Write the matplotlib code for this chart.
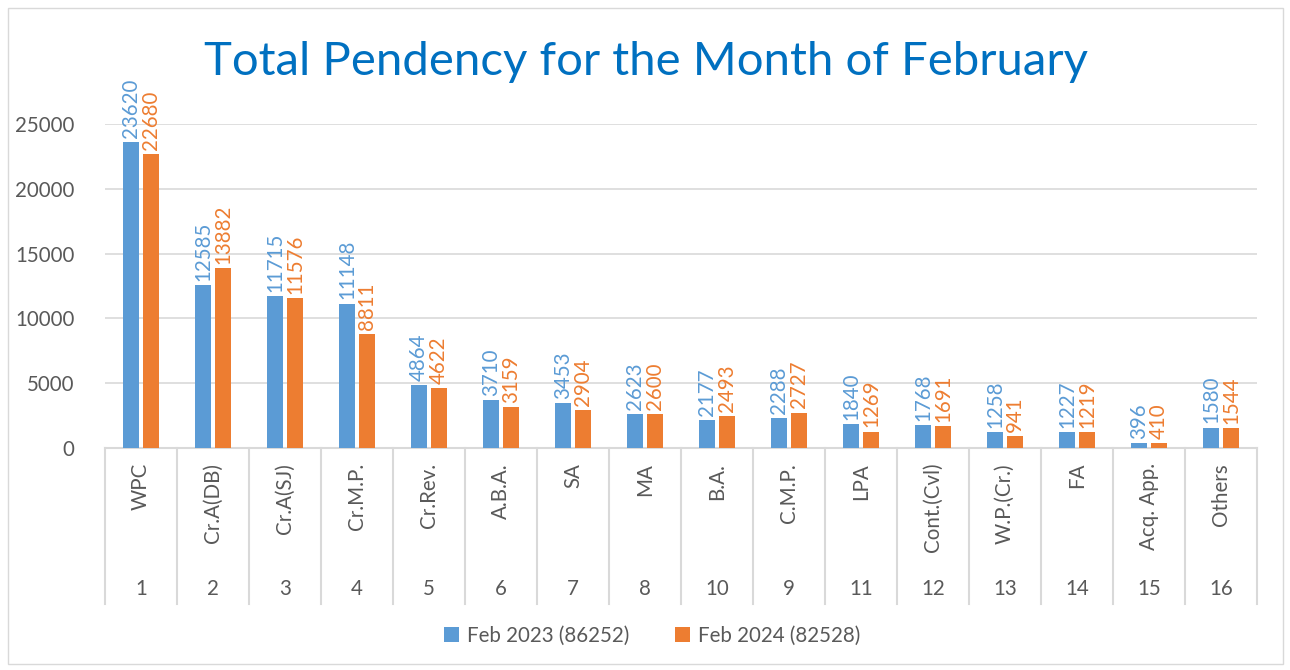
import matplotlib
matplotlib.use("Agg")
import matplotlib.pyplot as plt
import matplotlib.transforms as mtransforms
from matplotlib.lines import Line2D
from matplotlib.patches import Rectangle
import numpy as np

categories = ["WPC", "Cr.A(DB)", "Cr.A(SJ)", "Cr.M.P.", "Cr.Rev.", "A.B.A.", "SA", "MA",
              "B.A.", "C.M.P.", "LPA", "Cont.(Cvl)", "W.P.(Cr.)", "FA", "Acq. App.", "Others"]
serial = ["1", "2", "3", "4", "5", "6", "7", "8", "10", "9", "11", "12", "13", "14", "15", "16"]
feb2023 = [23620, 12585, 11715, 11148, 4864, 3710, 3453, 2623, 2177, 2288, 1840, 1768, 1258, 1227, 396, 1580]
feb2024 = [22680, 13882, 11576, 8811, 4622, 3159, 2904, 2600, 2493, 2727, 1269, 1691, 941, 1219, 410, 1544]
series_names = ["Feb 2023 (86252)", "Feb 2024 (82528)"]
yticks = [0, 5000, 10000, 15000, 20000, 25000]

BLUE = "#5B9BD5"
ORANGE = "#ED7D31"
GREY = "#595959"
GRID = "#D9D9D9"
FONT = "Lato"
FS = 14.8

W, H = 1290, 670
fig = plt.figure(figsize=(W / 100, H / 100), dpi=100)
fig.patch.set_facecolor("white")

# outer chart border
fig.patches.append(Rectangle((8 / W, 6 / H), (1283 - 8) / W, (662 - 6) / H,
                             transform=fig.transFigure, fill=False,
                             edgecolor="#D9D9D9", linewidth=1.0))

x0, x1 = 105, 1257
y0, ytop = 448, 124
ax = fig.add_axes([x0 / W, (H - y0) / H, (x1 - x0) / W, (y0 - ytop) / H])
n = len(categories)
x = np.arange(n)
ax.set_xlim(-0.5, n - 0.5)
ax.set_ylim(0, 25000)

bw = 0.22
off = 0.14
ax.bar(x - off, feb2023, width=bw, color=BLUE, zorder=3, label=series_names[0])
ax.bar(x + off, feb2024, width=bw, color=ORANGE, zorder=3, label=series_names[1])

for xi, v in zip(x, feb2023):
    ax.annotate(str(v), (xi - off, v), xytext=(0, 3), textcoords="offset points",
                rotation=90, ha="center", va="bottom", color=BLUE,
                fontsize=FS, family=FONT, annotation_clip=False)
for xi, v in zip(x, feb2024):
    ax.annotate(str(v), (xi + off, v), xytext=(0, 3), textcoords="offset points",
                rotation=90, ha="center", va="bottom", color=ORANGE,
                fontsize=FS, family=FONT, annotation_clip=False)

ax.set_yticks(yticks)
ax.set_yticklabels([str(t) for t in yticks], fontsize=FS, family=FONT, color=GREY)
ax.tick_params(axis="y", length=0, pad=22)
ax.tick_params(axis="x", length=0, labelbottom=False)
ax.grid(axis="y", color=GRID, linewidth=1.2, zorder=0)
for s in ["top", "right", "left"]:
    ax.spines[s].set_visible(False)
ax.spines["bottom"].set_color(GRID)
ax.spines["bottom"].set_linewidth(1.5)

# multi-level category axis
tr = mtransforms.blended_transform_factory(ax.transData, fig.transFigure)
def fy(py):
    return (H - py) / H

for i in range(n + 1):
    xb = i - 0.5
    fig.add_artist(Line2D([xb, xb], [fy(448), fy(604)], transform=tr,
                          color=GRID, linewidth=1.5))
for i, (c, s) in enumerate(zip(categories, serial)):
    fig.text(i, fy(463), c, transform=tr, rotation=90, ha="center", va="top",
             fontsize=FS, family=FONT, color=GREY)
    fig.text(i, fy(589), s, transform=tr, ha="center", va="center",
             fontsize=FS, family=FONT, color=GREY)

fig.text(646 / W, fy(62), "Total Pendency for the Month of February", ha="center",
         va="center", fontsize=34, family=FONT, color="#0070C0")

leg = fig.legend(loc="center", bbox_to_anchor=(652 / W, fy(636)), ncol=2, frameon=False,
                 prop={"family": FONT, "size": FS}, labelcolor=GREY,
                 handlelength=0.75, handleheight=0.75, handletextpad=0.4, columnspacing=2.2)

fig.savefig("out.png", dpi=100)
